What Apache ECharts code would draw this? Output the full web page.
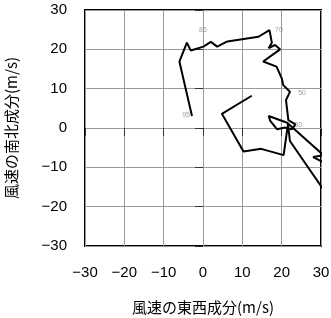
<!DOCTYPE html>
<html><head><meta charset="utf-8">
<script src="https://cdn.jsdelivr.net/npm/echarts@6/dist/echarts.min.js"></script>
<style>html,body{margin:0;padding:0;background:#fff}#c{width:331px;height:318px}</style>
</head><body><div id="c"></div>
<script>
// hodograph: eastward (u) and northward (v) wind components, m/s
const uWind = [-2.8,-6.0,-4.1,-3.1,0.1,2.0,3.6,6.2,14.1,16.9,17.5,16.7,18.3,19.6,15.3,18.7,20.0,20.4,22.1,21.1,21.7,
  23.5,22.6,20.9,18.8,17.1,16.7,21.4,30.6,28.0,32.0,33.0,22.1,21.6,20.5,14.8,10.3,4.8,12.4];
const vWind = [3.05,16.9,21.7,19.7,20.7,21.9,20.7,22.0,23.2,24.9,21.7,20.3,21.1,20.0,16.9,15.6,12.7,10.9,9.2,7.1,2.0,
  0.9,-0.3,0.1,-0.3,1.8,3.05,1.35,-6.9,-7.4,-9.4,-19.1,-3.3,1.0,-6.9,-5.3,-6.0,3.6,8.2];
// level labels
const levelText = ['95','85','70','50','30'];
const levelU = [-4.3,0.0,19.3,25.2,24.2];
const levelV = [3.3,24.9,25.0,8.9,0.8];
const tickValues = [-30,-20,-10,0,10,20,30];

const pts = uWind.map((u,i)=>[u,vWind[i]]);
const lbl = levelText.map((t,i)=>({value:[levelU[i],levelV[i]],name:t}));
const fontMain = 'Liberation Sans, Arial, sans-serif';
const fontCJK = '"Noto Sans CJK JP", "Liberation Sans", sans-serif';
const axisCommon = {
  type:'value', min:-30, max:30, interval:10,
  axisLine:{show:false},
  axisTick:{show:true, inside:false, length:8, lineStyle:{color:'#333',width:1}},
  axisLabel:{color:'#000', fontSize:15, fontFamily:fontMain,
    formatter:v=>String(v).replace('-','\u2212')},
  splitLine:{show:true, lineStyle:{color:'#999', width:1}},
  nameLocation:'middle',
  nameTextStyle:{color:'#000', fontSize:15, fontFamily:fontCJK}
};
const chart = echarts.init(document.getElementById('c'), null, {renderer:'canvas'});
chart.setOption({
  animation:false,
  grid:{left:85, right:10, top:10, bottom:72, containLabel:false, outerBoundsMode:'none',
    show:true, borderColor:'#000', borderWidth:2, backgroundColor:'transparent'},
  xAxis:Object.assign({}, axisCommon, {name:'風速の東西成分(m/s)', nameGap:54,
    axisLabel:Object.assign({}, axisCommon.axisLabel, {margin:19})}),
  yAxis:Object.assign({}, axisCommon, {name:'風速の南北成分(m/s)', nameGap:66, nameRotate:90,
    axisLabel:Object.assign({}, axisCommon.axisLabel, {margin:18})}),
  series:[
    {type:'line', data:pts, symbol:'none', clip:true, lineStyle:{color:'#000', width:2}, z:3},
    {type:'scatter', data:lbl, symbolSize:0, clip:true, z:4,
      label:{show:true, position:'inside', formatter:p=>p.name, color:'#888', fontSize:7, fontFamily:fontMain}}
  ]
});
</script></body></html>
